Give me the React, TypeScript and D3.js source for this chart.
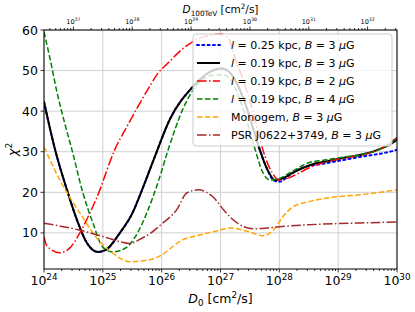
import React, { useRef, useEffect } from 'react';
import * as d3 from 'd3';

// log10(D0) positions and chi^2 values
const blueLogD = [24.0, 24.19, 24.39, 24.56, 24.73, 24.92, 25.05, 25.29, 25.5, 25.65, 25.85, 26.14, 26.53, 26.8, 27.02, 27.16, 27.38, 27.55, 27.67, 27.8, 27.9, 28.0, 28.18, 28.35, 28.81, 29.37, 29.93, 30.0];
const blueChi2 = [42.3, 30.4, 20.6, 13.2, 7.5, 5.3, 5.8, 10, 14.8, 20, 27.5, 38, 46, 49.5, 50.5, 49.5, 43.5, 36, 30.4, 25.5, 23, 22.6, 24.3, 25.8, 27.2, 28.7, 30.2, 30.5];

const blackLogD = [24.0, 24.19, 24.39, 24.56, 24.73, 24.92, 25.05, 25.29, 25.5, 25.65, 25.85, 26.14, 26.53, 26.8, 27.02, 27.16, 27.38, 27.55, 27.67, 27.8, 27.93, 28.05, 28.25, 28.54, 28.83, 29.1, 29.37, 29.66, 29.93, 30.0];
const blackChi2 = [42.3, 30.4, 20.6, 13.2, 7.5, 5.3, 5.8, 10, 14.8, 20, 27.5, 38, 46, 49.5, 50.5, 49.5, 43.5, 36, 30.4, 25.5, 23, 23.4, 25, 26.8, 27.7, 28.5, 29.2, 30.4, 32.2, 33];

const redLogD = [24.0, 24.05, 24.27, 24.44, 24.61, 24.78, 24.95, 25.09, 25.2, 25.41, 25.63, 25.8, 25.94, 26.09, 26.36, 26.65, 26.86, 27.0, 27.13, 27.25, 27.4, 27.55, 27.67, 27.76, 27.88, 28.0, 28.15, 28.3, 28.5, 28.8, 29.1, 29.4, 29.7, 30.0];
const redChi2 = [9, 6.8, 5.1, 6.3, 10, 14.9, 20.6, 26.3, 30.4, 36.2, 42, 46.2, 49.4, 51.6, 55.4, 58, 58.8, 59, 58, 53, 47, 40, 33, 28.7, 24.8, 23, 23.5, 24.5, 26, 27.5, 28.4, 29.2, 30.6, 33.5];

const greenLogD = [24.0, 24.1, 24.22, 24.36, 24.48, 24.66, 24.83, 25.0, 25.17, 25.41, 25.55, 25.75, 25.95, 26.1, 26.36, 26.6, 26.85, 27.05, 27.2, 27.35, 27.48, 27.6, 27.7, 27.85, 28.0, 28.2, 28.5, 28.8, 29.1, 29.4, 29.7, 30.0];
const greenChi2 = [59.5, 53.1, 44.7, 36.6, 30.2, 19.9, 12.5, 6.5, 5.3, 6.5, 9, 15, 23, 30, 40.5, 46.5, 48.8, 49, 47, 42, 36, 30, 25.5, 23, 23.4, 25, 27.3, 28, 28.7, 29.3, 30.6, 33.5];

const orangeLogD = [24.0, 24.27, 24.45, 24.65, 24.92, 25.16, 25.46, 25.8, 25.94, 26.36, 26.65, 26.94, 27.16, 27.5, 27.72, 27.9, 28.06, 28.23, 28.47, 28.81, 29.37, 30.0];
const orangeChi2 = [31.2, 23, 18.5, 14, 8.3, 5.1, 2.9, 3.4, 4.1, 8.3, 9.5, 10.5, 11.2, 10.2, 9.3, 10.7, 14, 16.4, 17.6, 18.6, 19.4, 20.6];

const brownLogD = [24.0, 24.3, 24.6, 25.07, 25.3, 25.45, 25.68, 25.8, 26.0, 26.26, 26.43, 26.62, 26.87, 27.08, 27.28, 27.55, 27.79, 28.0, 28.5, 29.0, 29.5, 30.0];
const brownChi2 = [12.4, 11.6, 10.7, 8.8, 7.8, 7.4, 8.8, 9.8, 12.2, 15.8, 19.9, 20.6, 18.9, 15.2, 12.5, 11, 11.2, 11.5, 12, 12.3, 12.5, 12.7];

const seriesLabels = [
  ['l', ' = 0.25 kpc, ', 'B', ' = 3 ', 'μ', 'G'],
  ['l', ' = 0.19 kpc, ', 'B', ' = 3 ', 'μ', 'G'],
  ['l', ' = 0.19 kpc, ', 'B', ' = 2 ', 'μ', 'G'],
  ['l', ' = 0.19 kpc, ', 'B', ' = 4 ', 'μ', 'G'],
  ['Monogem, ', 'B', ' = 3 ', 'μ', 'G'],
  ['PSR J0622+3749, ', 'B', ' = 3 ', 'μ', 'G'],
];
const italicParts = ['l', 'B', 'μ'];

const yTicks = [10, 20, 30, 40, 50, 60];
const bottomDecades = [24, 25, 26, 27, 28, 29, 30];
const topDecades = [27, 28, 29, 30, 31, 32];

const series = [
  { x: blueLogD, y: blueChi2, color: 'blue', width: 2, dash: '2,3.3', cap: 'round' },
  { x: blackLogD, y: blackChi2, color: 'black', width: 2, dash: null, cap: 'butt' },
  { x: redLogD, y: redChi2, color: 'red', width: 1.5, dash: '9.6,2.4,1.5,2.4', cap: 'butt' },
  { x: greenLogD, y: greenChi2, color: 'green', width: 1.5, dash: '5.5,2.4', cap: 'butt' },
  { x: orangeLogD, y: orangeChi2, color: 'orange', width: 1.5, dash: '5.5,2.4', cap: 'butt' },
  { x: brownLogD, y: brownChi2, color: 'brown', width: 1.5, dash: '9.6,2.4,1.5,2.4', cap: 'butt' },
];

function Chart() {
  const ref = useRef<SVGSVGElement>(null);

  useEffect(() => {
    const svg = d3.select(ref.current);
    svg.selectAll('*').remove();

    const left = 44, right = 397, top = 30, bottom = 269;
    const font = 'DejaVu Sans, sans-serif';

    const x = d3.scaleLog().domain([1e24, 1e30]).range([left, right]);
    const xTop = d3.scaleLog().domain([Math.pow(10, 26.5), Math.pow(10, 32.5)]).range([left, right]);
    const y = d3.scaleLinear().domain([1.1, 60]).range([bottom, top]);

    svg.append('defs').append('clipPath').attr('id', 'plotclip')
      .append('rect').attr('x', left).attr('y', top)
      .attr('width', right - left).attr('height', bottom - top);

    // grid
    const grid = svg.append('g').attr('stroke', '#cfcfcf').attr('stroke-width', 1);
    bottomDecades.forEach(d => {
      const px = x(Math.pow(10, d));
      grid.append('line').attr('x1', px).attr('x2', px).attr('y1', top).attr('y2', bottom);
    });
    yTicks.forEach(t => {
      grid.append('line').attr('x1', left).attr('x2', right).attr('y1', y(t)).attr('y2', y(t));
    });

    // curves
    const line = d3.line<[number, number]>()
      .x(d => x(Math.pow(10, d[0])))
      .y(d => y(d[1]))
      .curve(d3.curveMonotoneX);

    const plot = svg.append('g').attr('clip-path', 'url(#plotclip)');
    series.forEach(s => {
      const pts = s.x.map((v, i) => [v, s.y[i]] as [number, number]);
      const p = plot.append('path')
        .datum(pts)
        .attr('fill', 'none')
        .attr('stroke', s.color)
        .attr('stroke-width', s.width)
        .attr('stroke-linecap', s.cap)
        .attr('d', line);
      if (s.dash) p.attr('stroke-dasharray', s.dash);
    });

    // spines
    svg.append('rect')
      .attr('x', left).attr('y', top)
      .attr('width', right - left).attr('height', bottom - top)
      .attr('fill', 'none').attr('stroke', 'black').attr('stroke-width', 1);

    const ticks = svg.append('g').attr('stroke', 'black').attr('stroke-width', 0.8);

    // bottom axis
    for (let d = 24; d < 30; d++) {
      for (let k = 2; k <= 9; k++) {
        const px = x(k * Math.pow(10, d));
        ticks.append('line').attr('x1', px).attr('x2', px).attr('y1', bottom).attr('y2', bottom + 2);
      }
    }
    bottomDecades.forEach(d => {
      const px = x(Math.pow(10, d));
      ticks.append('line').attr('x1', px).attr('x2', px).attr('y1', bottom).attr('y2', bottom + 3.5);
      const t = svg.append('text')
        .attr('x', px).attr('y', bottom + 16)
        .attr('text-anchor', 'middle')
        .attr('font-family', font).attr('font-size', 12.5);
      t.append('tspan').text('10');
      t.append('tspan').attr('dy', -5).attr('font-size', 8.8).text(String(d));
    });

    // top axis
    for (let d = 26; d < 33; d++) {
      for (let k = 1; k <= 9; k++) {
        const v = k * Math.pow(10, d);
        if (v < xTop.domain()[0] || v > xTop.domain()[1]) continue;
        const px = xTop(v);
        const len = k === 1 ? 3.5 : 2;
        ticks.append('line').attr('x1', px).attr('x2', px).attr('y1', top).attr('y2', top - len);
      }
    }
    topDecades.forEach(d => {
      const px = xTop(Math.pow(10, d));
      const t = svg.append('text')
        .attr('x', px).attr('y', top - 6.5)
        .attr('text-anchor', 'middle')
        .attr('font-family', font).attr('font-size', 6.5);
      t.append('tspan').text('10');
      t.append('tspan').attr('dy', -2.3).attr('font-size', 4.6).text(String(d));
    });

    // left axis
    yTicks.forEach(v => {
      ticks.append('line').attr('x1', left - 3.5).attr('x2', left).attr('y1', y(v)).attr('y2', y(v));
      svg.append('text')
        .attr('x', left - 6).attr('y', y(v) + 4.5)
        .attr('text-anchor', 'end')
        .attr('font-family', font).attr('font-size', 12.5)
        .text(v);
    });

    // axis labels
    const xl = svg.append('text')
      .attr('x', (left + right) / 2).attr('y', 303)
      .attr('text-anchor', 'middle')
      .attr('font-family', font).attr('font-size', 12.5);
    xl.append('tspan').attr('font-style', 'italic').text('D');
    xl.append('tspan').attr('dy', 3).attr('font-size', 8.8).text('0');
    xl.append('tspan').attr('dy', -3).text(' [cm');
    xl.append('tspan').attr('dy', -5).attr('font-size', 8.8).text('2');
    xl.append('tspan').attr('dy', 5).text('/s]');

    const tl = svg.append('text')
      .attr('x', (left + right) / 2).attr('y', 13)
      .attr('text-anchor', 'middle')
      .attr('font-family', font).attr('font-size', 10.5);
    tl.append('tspan').attr('font-style', 'italic').text('D');
    tl.append('tspan').attr('dy', 2.5).attr('font-size', 7.3).text('100TeV');
    tl.append('tspan').attr('dy', -2.5).text(' [cm');
    tl.append('tspan').attr('dy', -4).attr('font-size', 7.3).text('2');
    tl.append('tspan').attr('dy', 4).text('/s]');

    const yl = svg.append('text')
      .attr('transform', `translate(17,${(top + bottom) / 2}) rotate(-90)`)
      .attr('text-anchor', 'middle')
      .attr('font-family', font).attr('font-size', 13);
    yl.append('tspan').attr('font-style', 'italic').text('χ');
    yl.append('tspan').attr('dy', -5).attr('font-size', 9).text('2');

    // legend
    const lg = svg.append('g');
    lg.append('rect')
      .attr('x', 193).attr('y', 34).attr('width', 199).attr('height', 112)
      .attr('rx', 3)
      .attr('fill', 'white').attr('fill-opacity', 0.8)
      .attr('stroke', '#cccccc').attr('stroke-width', 1);
    series.forEach((s, i) => {
      const ly = 45 + i * 18;
      const l = lg.append('line')
        .attr('x1', 197).attr('x2', 220).attr('y1', ly).attr('y2', ly)
        .attr('stroke', s.color).attr('stroke-width', s.width)
        .attr('stroke-linecap', s.cap);
      if (s.dash) l.attr('stroke-dasharray', s.dash);
      const t = lg.append('text')
        .attr('x', 231).attr('y', ly + 4)
        .attr('font-family', font).attr('font-size', 11);
      seriesLabels[i].forEach(part => {
        const sp = t.append('tspan').text(part);
        if (italicParts.includes(part)) sp.attr('font-style', 'italic');
      });
    });
  }, []);

  return <svg ref={ref} width={415} height={312} style={{ position: 'absolute', left: 0, top: 0, background: 'white' }} />;
}

export default function App() {
  return <Chart />;
}
